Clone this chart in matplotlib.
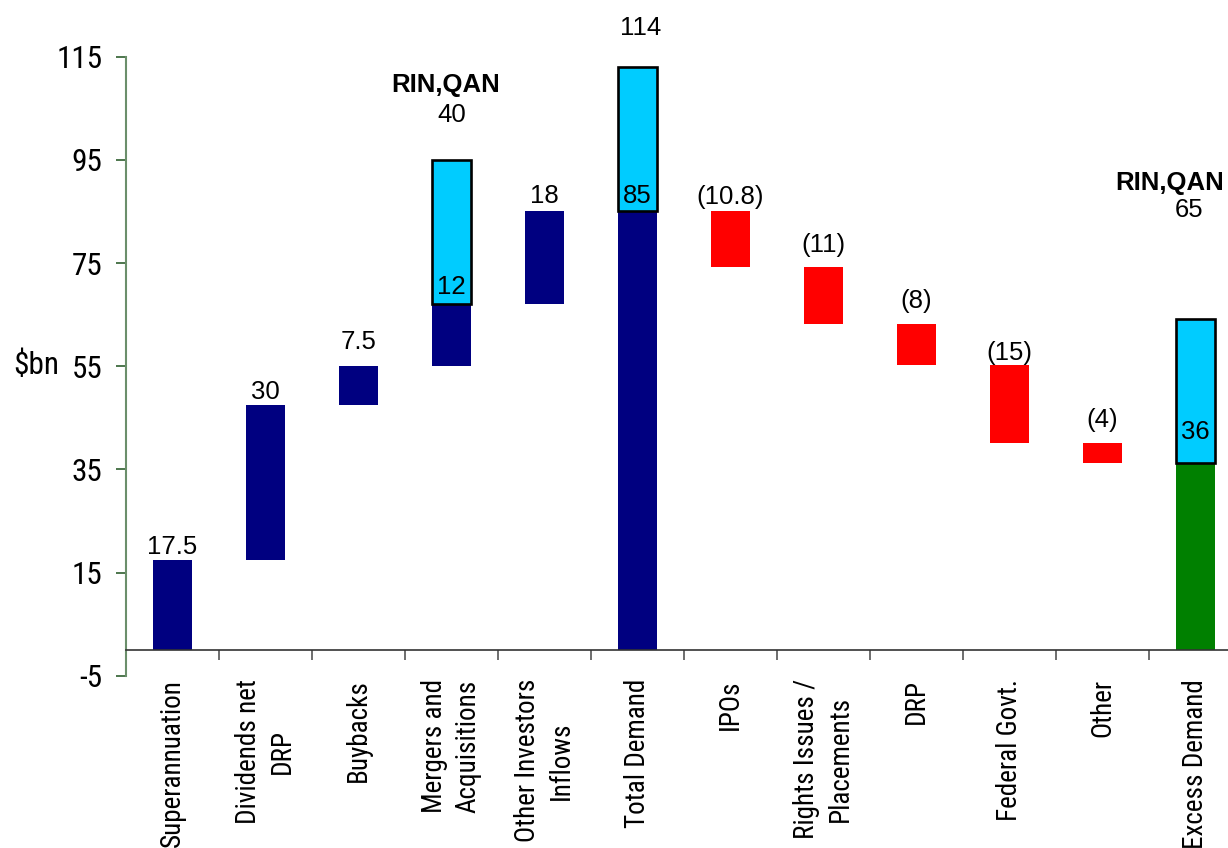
import matplotlib
matplotlib.use("Agg")
import matplotlib.pyplot as plt
from matplotlib import font_manager
from matplotlib.ticker import FixedLocator, NullFormatter
import numpy as np

# ---- data ----
categories = ["Superannuation", "Dividends net\nDRP", "Buybacks", "Mergers and\nAcquisitions",
              "Other Investors\nInflows", "Total Demand", "IPOs", "Rights Issues /\nPlacements",
              "DRP", "Federal Govt.", "Other", "Excess Demand"]
demand_steps = [17.5, 30, 7.5, 12, 18]          # Superannuation .. Other Investors
supply_steps = [-10.8, -11, -8, -15, -4]       # IPOs .. Other
rin_qan = 28                                    # RIN,QAN deal overlay
top_labels = ["17.5", "30", "7.5", "40", "18", "114", "(10.8)", "(11)", "(8)", "(15)", "(4)", "65"]
inner_labels = {3: "12", 5: "85", 11: "36"}
deal_label = "RIN,QAN"
y_ticks = [-5, 15, 35, 55, 75, 95, 115]

# ---- fonts ----
available = {f.name for f in font_manager.fontManager.ttflist}
narrow_candidates = ["Liberation Sans Narrow", "Arial Narrow", "Roboto Condensed",
                     "Open Sans Condensed", "Noto Sans Condensed", "DejaVu Sans Condensed"]
narrow_name = next((n for n in narrow_candidates if n in available), None)
if narrow_name is not None:
    narrow = [narrow_name, "DejaVu Sans"]
    tick_fs, cat_fs = 22.5, 19.5
else:
    narrow = ["Liberation Sans", "DejaVu Sans"]
    tick_fs, cat_fs = 17, 16.5
arial = ["Liberation Sans", "DejaVu Sans"]

# ---- styles ----
NAVY, CYAN, RED, GREEN = "#000080", "#00CCFF", "#FF0000", "#008000"
W = 0.41
PX = 0.72  # points per pixel at dpi 100
LAB_FS = 18.5

fig = plt.figure(figsize=(12.28, 8.48), dpi=100)
ax = fig.add_axes([126 / 1228, 1 - 675.7 / 848, 1116 / 1228, (675.7 - 56.7) / 848])

x = np.arange(len(categories))
label_ref = []  # y reference for top labels

cum = 0.0
for i, v in enumerate(demand_steps):
    ax.bar(x[i], v, W, bottom=cum, color=NAVY, zorder=2)
    cum += v
    label_ref.append(cum)
# deal overlay on M&A
ma = 3
ax.bar(x[ma], rin_qan, W, bottom=label_ref[ma], color=CYAN, edgecolor="black", linewidth=1.9, zorder=3)
inner_base = {ma: label_ref[ma]}
label_ref[ma] = label_ref[ma] + rin_qan

# Total demand
ti = len(demand_steps)
ax.bar(x[ti], cum, W, bottom=0, color=NAVY, zorder=2)
ax.bar(x[ti], rin_qan, W, bottom=cum, color=CYAN, edgecolor="black", linewidth=1.9, zorder=3)
inner_base[ti] = cum
label_ref.append(cum + rin_qan)

for j, v in enumerate(supply_steps):
    i = ti + 1 + j
    ax.bar(x[i], -v, W, bottom=cum + v, color=RED, zorder=2)
    label_ref.append(cum)
    cum += v

ei = len(categories) - 1
ax.bar(x[ei], cum, W, bottom=0, color=GREEN, zorder=2)
ax.bar(x[ei], rin_qan, W, bottom=cum, color=CYAN, edgecolor="black", linewidth=1.9, zorder=3)
inner_base[ei] = cum
label_ref.append(cum + rin_qan)

# ---- labels ----
top_off_px = [12.6, 12.8, 24.4, 44.5, 15.3, 38.8, 14.6, 22, 22.7, 12.3, 22.5, 109]
top_dx_px = [0, 0, 0, 0, 0, 3.5, 0, 0, 0, 0, 0, -6]
for i, lab in enumerate(top_labels):
    ax.annotate(lab, (x[i], label_ref[i]), xytext=(top_dx_px[i] * PX, top_off_px[i] * PX),
                textcoords="offset points", ha="center", va="center",
                fontsize=LAB_FS, family=arial, annotation_clip=False, zorder=5)

inner_off_px = {3: 17, 5: 15.3, 11: 31}
for i, lab in inner_labels.items():
    ax.annotate(lab, (x[i], inner_base[i]), xytext=(0, inner_off_px[i] * PX),
                textcoords="offset points", ha="center", va="center",
                fontsize=LAB_FS, family=arial, annotation_clip=False, zorder=5)

deal_pos = {3: (-6, 74.5), 11: (-26, 136)}
for i, (dx, dy) in deal_pos.items():
    ax.annotate(deal_label, (x[i], label_ref[i]), xytext=(dx * PX, dy * PX),
                textcoords="offset points", ha="center", va="center",
                fontsize=18.5, fontweight="bold", family=arial, annotation_clip=False, zorder=5)

# ---- axes ----
ax.set_xlim(-0.5, len(categories) - 0.5)
ax.set_ylim(-5, 115)
ax.set_yticks(y_ticks)
ax.set_yticklabels([str(t) for t in y_ticks], family=narrow, fontsize=tick_fs)
ax.tick_params(axis="y", direction="out", length=7, width=1.2, color="#2f5f2f", pad=10)

ax.spines["top"].set_visible(False)
ax.spines["right"].set_visible(False)
ax.spines["left"].set_color("#6b8f6b")
ax.spines["left"].set_linewidth(1.5)
ax.spines["bottom"].set_position(("data", 0))
ax.spines["bottom"].set_color("#333333")
ax.spines["bottom"].set_linewidth(1.2)

ax.set_xticks(x)
ax.set_xticklabels(categories, rotation=90, family=narrow, fontsize=cat_fs,
                   multialignment="center", linespacing=1.3)
ax.tick_params(axis="x", which="major", length=0, pad=21)
ax.xaxis.set_minor_locator(FixedLocator(np.arange(len(categories) + 1) - 0.5))
ax.xaxis.set_minor_formatter(NullFormatter())
ax.tick_params(axis="x", which="minor", length=7, width=1.2, color="#555555", direction="out")

fig.text(13 / 1228, 1 - 365 / 848, "$bn", family=narrow, fontsize=tick_fs, ha="left", va="center")

fig.savefig("out.png", dpi=100)
